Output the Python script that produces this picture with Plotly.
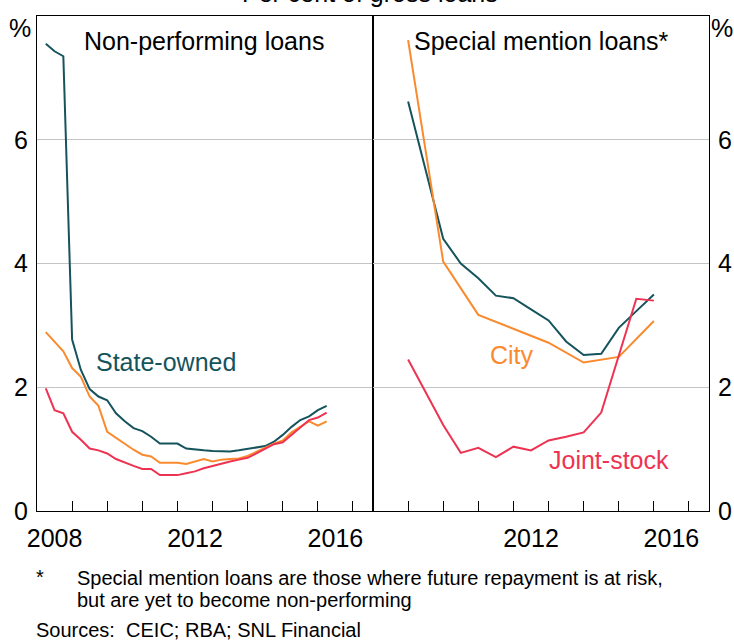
import plotly.graph_objects as go

# ---------------- data ----------------
q_dates = [2008.25, 2008.5, 2008.75, 2009.0, 2009.25, 2009.5, 2009.75, 2010.0,
           2010.25, 2010.5, 2010.75, 2011.0, 2011.25, 2011.5, 2011.75, 2012.0,
           2012.25, 2012.5, 2012.75, 2013.0, 2013.25, 2013.5, 2013.75, 2014.0,
           2014.25, 2014.5, 2014.75, 2015.0, 2015.25, 2015.5, 2015.75, 2016.0,
           2016.25]
npl_state = [7.55, 7.43, 7.35, 2.77, 2.28, 1.97, 1.85, 1.79,
             1.58, 1.45, 1.34, 1.29, 1.20, 1.09, 1.09, 1.09,
             1.01, 0.99, 0.98, 0.97, 0.96, 0.96, 0.98, 1.00,
             1.03, 1.05, 1.12, 1.23, 1.36, 1.47, 1.53, 1.63,
             1.70]
npl_city = [2.89, 2.74, 2.58, 2.31, 2.17, 1.85, 1.70, 1.28,
            1.18, 1.09, 0.99, 0.91, 0.88, 0.78, 0.78, 0.78,
            0.76, 0.80, 0.84, 0.80, 0.83, 0.84, 0.85, 0.89,
            0.96, 1.02, 1.09, 1.14, 1.27, 1.36, 1.45, 1.38,
            1.45]
npl_joint = [1.98, 1.63, 1.58, 1.28, 1.15, 1.01, 0.98, 0.93,
             0.84, 0.78, 0.73, 0.68, 0.68, 0.58, 0.58, 0.58,
             0.61, 0.64, 0.69, 0.73, 0.77, 0.80, 0.83, 0.86,
             0.93, 1.01, 1.08, 1.11, 1.23, 1.36, 1.47, 1.51,
             1.59]

sm_state_x = [2009.0, 2010.0, 2010.5, 2011.0, 2011.5, 2012.0, 2012.5, 2013.0,
              2013.5, 2014.0, 2014.5, 2015.0, 2015.5, 2016.0]
sm_state = [6.62, 4.40, 4.00, 3.76, 3.48, 3.44, 3.26, 3.08,
            2.74, 2.52, 2.54, 2.96, 3.23, 3.50]
sm_city_x = [2009.0, 2010.0, 2011.0, 2012.0, 2013.0, 2014.0, 2014.5, 2015.0, 2016.0]
sm_city = [7.61, 4.03, 3.17, 2.94, 2.72, 2.40, 2.44, 2.49, 3.07]
sm_joint_x = [2009.0, 2010.0, 2010.5, 2011.0, 2011.5, 2012.0, 2012.5, 2013.0,
              2013.5, 2014.0, 2014.5, 2015.0, 2015.5, 2016.0]
sm_joint = [2.45, 1.39, 0.94, 1.02, 0.87, 1.04, 0.98, 1.14,
            1.20, 1.27, 1.59, 2.50, 3.43, 3.40]

left_labels_at = [2008.5, 2012.5, 2016.5]
left_labels = ["2008", "2012", "2016"]
right_labels_at = [2012.5, 2016.5]
right_labels = ["2012", "2016"]
year_ticks = [2009, 2010, 2011, 2012, 2013, 2014, 2015, 2016, 2017]
y_ticks = [0, 2, 4, 6]

# ---------------- style ----------------
TEAL = "#15535d"
ORANGE = "#fa8a2e"
RED = "#ee3352"
FONT = "Arial, Liberation Sans, sans-serif"
W, H = 734, 640
L, R, T, B = 37, 25, 16, 129
PW = W - L - R
PH = H - T - B


def px(x):
    return (x - L) / PW


def py(y):
    return (H - B - y) / PH


fig = go.Figure()
fig.add_trace(go.Scatter(x=q_dates, y=npl_state, mode="lines", line=dict(color=TEAL, width=2),
                         xaxis="x", yaxis="y"))
fig.add_trace(go.Scatter(x=q_dates, y=npl_city, mode="lines", line=dict(color=ORANGE, width=2),
                         xaxis="x", yaxis="y"))
fig.add_trace(go.Scatter(x=q_dates, y=npl_joint, mode="lines", line=dict(color=RED, width=2),
                         xaxis="x", yaxis="y"))
fig.add_trace(go.Scatter(x=sm_state_x, y=sm_state, mode="lines", line=dict(color=TEAL, width=2),
                         xaxis="x2", yaxis="y2"))
fig.add_trace(go.Scatter(x=sm_city_x, y=sm_city, mode="lines", line=dict(color=ORANGE, width=2),
                         xaxis="x2", yaxis="y2"))
fig.add_trace(go.Scatter(x=sm_joint_x, y=sm_joint, mode="lines", line=dict(color=RED, width=2),
                         xaxis="x2", yaxis="y2"))

xcommon = dict(range=[2008, 2017.57], showline=True, linecolor="black", linewidth=1,
               mirror=True, showgrid=False, zeroline=False, ticks="", automargin=False,
               tickfont=dict(family=FONT, size=25, color="black"),
               ticklabelstandoff=5,
               minor=dict(tickvals=year_ticks, ticks="inside", ticklen=10,
                          tickcolor="black", tickwidth=1, showgrid=False))
ycommon = dict(range=[0, 8], showline=True, linecolor="black", linewidth=1, mirror=True,
               showgrid=True, gridcolor="#c4c4c4", gridwidth=1, zeroline=False, ticks="",
               automargin=False,
               tickvals=y_ticks, ticktext=[str(v) for v in y_ticks],
               tickfont=dict(family=FONT, size=25, color="black"),
               ticklabelstandoff=3)

fig.update_layout(
    width=W, height=H,
    margin=dict(l=L, r=R, t=T, b=B),
    paper_bgcolor="white", plot_bgcolor="white",
    showlegend=False,
    xaxis=dict(domain=[0, 0.5], anchor="y", tickvals=left_labels_at, ticktext=left_labels, **xcommon),
    xaxis2=dict(domain=[0.5, 1], anchor="y2", tickvals=right_labels_at, ticktext=right_labels, **xcommon),
    yaxis=dict(domain=[0, 1], anchor="x", side="left", **ycommon),
    yaxis2=dict(domain=[0, 1], anchor="x2", side="right", **ycommon),
)


def ann(text, x, y, size=25, color="black", xanchor="left", yanchor="middle"):
    fig.add_annotation(text=text, x=px(x), y=py(y), xref="paper", yref="paper",
                       xanchor=xanchor, yanchor=yanchor, showarrow=False,
                       font=dict(family=FONT, size=size, color=color))


ann("Per cent of gross loans", 370, -7, xanchor="center")
ann("Non-performing loans", 82, 41)
ann("Special mention loans*", 412, 41)
ann("%", 20, 28, xanchor="center")
ann("%", 722, 28, xanchor="center")
ann("State-owned", 94, 362, color=TEAL)
ann("City", 488, 355, color=ORANGE)
ann("Joint-stock", 547, 460, color=RED)
ann("*", 34, 577, size=20)
ann("Special mention loans are those where future repayment is at risk,", 75, 578, size=20)
ann("but are yet to become non-performing", 75, 600, size=20)
ann("Sources:  CEIC; RBA; SNL Financial", 34, 630, size=20)

fig.write_html("out.html",
               config={"displayModeBar": False},
               post_script="document.body.style.margin='0';document.body.style.overflow='hidden';")
